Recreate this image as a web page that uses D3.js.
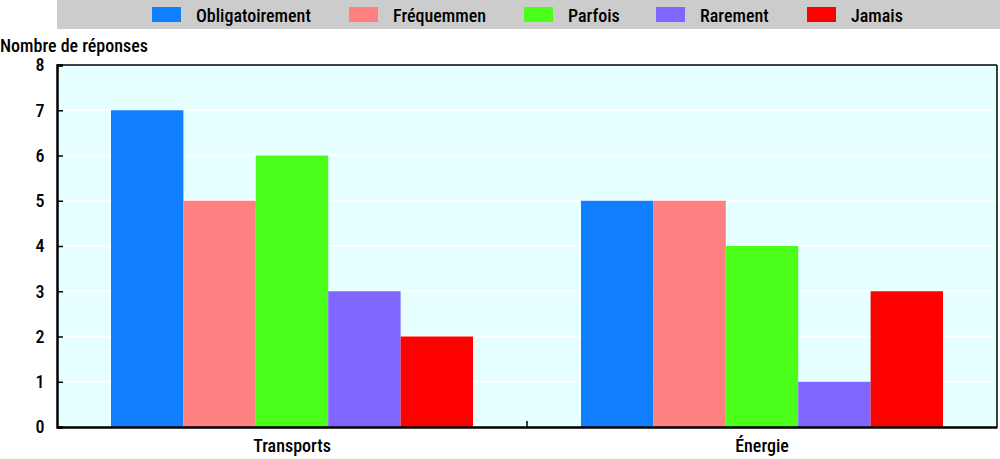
<!DOCTYPE html>
<html><head><meta charset="utf-8">
<script src="https://cdn.jsdelivr.net/npm/d3@7"></script>
<style>body{margin:0;background:#fff}svg{display:block;font-family:"Liberation Sans Narrow","Arial Narrow","Roboto Condensed",Roboto,sans-serif;font-weight:500}</style>
</head><body><svg id="c" width="1000" height="459"></svg>
<script>
const categories = ["Transports", "Énergie"];
const seriesNames = ["Obligatoirement", "Fréquemmen", "Parfois", "Rarement", "Jamais"];
const seriesColors = ["#0f7fff", "#ff8080", "#4cff1a", "#8066ff", "#ff0000"];
const transportsValues = [7, 5, 6, 3, 2];
const energieValues = [5, 5, 4, 1, 3];
const yTicks = [0, 1, 2, 3, 4, 5, 6, 7, 8];
const yLabel = "Nombre de réponses";
const valuesByCategory = [transportsValues, energieValues];

const svg = d3.select("#c");
const L = 57, R = 997, T = 65, B = 427;
const FS = 18;
const x0 = d3.scaleBand().domain(categories).range([L, R]);
const x1 = d3.scaleBand().domain(seriesNames).range([54, x0.bandwidth() - 54]);
const y = d3.scaleLinear().domain([0, 8]).range([B, T]);

// legend band
svg.append("rect").attr("x", 57).attr("y", 0).attr("width", 943).attr("height", 29).attr("fill", "#cccccc");
const legX = [152, 349, 524, 656, 807];
seriesNames.forEach((s, i) => {
  svg.append("rect").attr("x", legX[i]).attr("y", 7).attr("width", 29).attr("height", 15).attr("fill", seriesColors[i]);
  svg.append("text").attr("x", legX[i] + 44).attr("y", 21.5).attr("font-size", FS).attr("fill", "#000").text(s);
});

// plot background
svg.append("rect").attr("x", L).attr("y", T).attr("width", R - L).attr("height", B - T).attr("fill", "#e6ffff");
// gridlines
svg.append("g").selectAll("line").data(yTicks.filter(d => d > 0 && d < 8)).join("line")
  .attr("x1", L).attr("x2", R).attr("y1", d => y(d)).attr("y2", d => y(d))
  .attr("stroke", "#fff").attr("stroke-width", 1.5);

// bars
const g = svg.append("g");
categories.forEach((c, ci) => {
  g.append("g").attr("transform", `translate(${x0(c)},0)`).selectAll("rect")
    .data(valuesByCategory[ci]).join("rect")
    .attr("x", (d, i) => x1(seriesNames[i]))
    .attr("width", x1.bandwidth())
    .attr("y", d => y(d)).attr("height", d => B - y(d))
    .attr("fill", (d, i) => seriesColors[i]);
});

// frame
svg.append("line").attr("x1", L).attr("x2", R).attr("y1", T).attr("y2", T).attr("stroke", "#000").attr("stroke-width", 1.5);
svg.append("line").attr("x1", R).attr("x2", R).attr("y1", T).attr("y2", B).attr("stroke", "#000").attr("stroke-width", 1.5);

// y axis
const yAxis = d3.axisLeft(y).tickValues(yTicks).tickSize(-6).tickPadding(14).tickFormat(d3.format("d"));
const ya = svg.append("g").attr("transform", `translate(${L},0)`).call(yAxis).attr("font-family", null).attr("font-size", FS);
ya.select(".domain").attr("stroke", "#000").attr("stroke-width", 2.5);
ya.selectAll(".tick line").attr("stroke", "#000").attr("stroke-width", 1.5);
ya.selectAll(".tick text").attr("fill", "#000").attr("text-anchor", "middle").attr("dx", -3);

// x axis
const xa = svg.append("g").attr("transform", `translate(0,${B})`).call(d3.axisBottom(x0).tickSize(0).tickPadding(12)).attr("font-family", null).attr("font-size", FS);
xa.select(".domain").attr("stroke", "#000").attr("stroke-width", 2.5);
xa.selectAll(".tick text").attr("fill", "#000");
// separator tick between categories
svg.append("line").attr("x1", x0("Énergie")).attr("x2", x0("Énergie")).attr("y1", B).attr("y2", B - 6).attr("stroke", "#000").attr("stroke-width", 1.5);

svg.append("text").attr("x", 0).attr("y", 52).attr("font-size", FS).attr("fill", "#000").text(yLabel);
</script></body></html>
